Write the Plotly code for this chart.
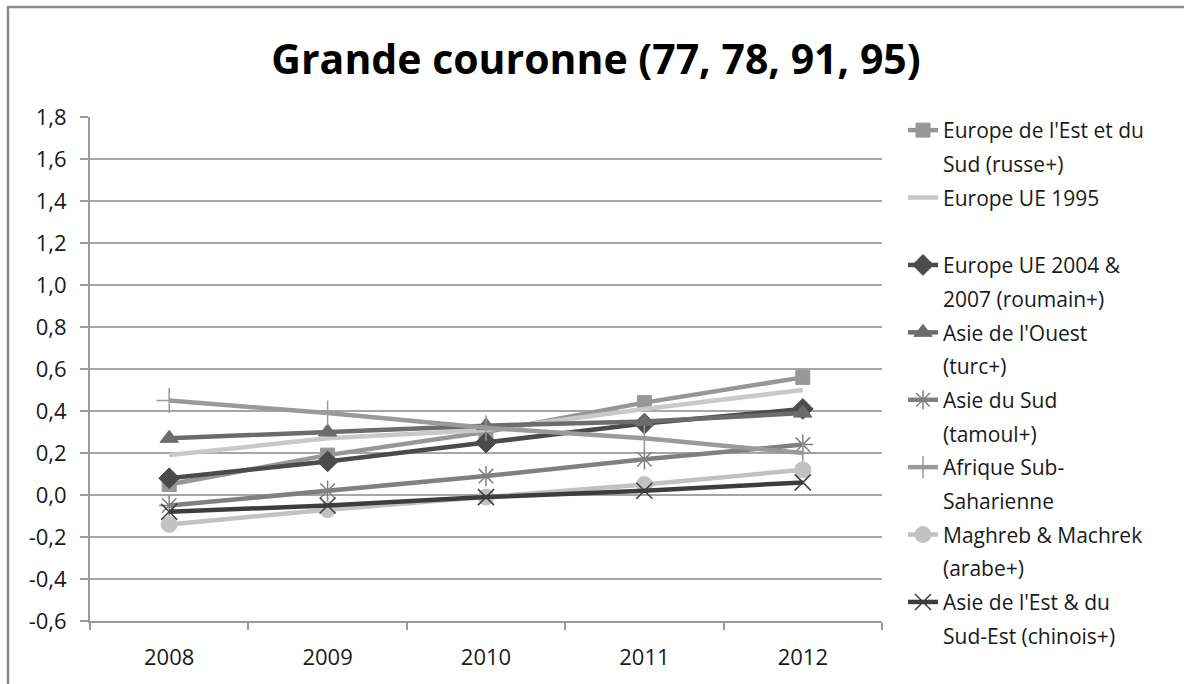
import plotly.graph_objects as go

years = ["2008", "2009", "2010", "2011", "2012"]

europe_est_sud = [0.05, 0.19, 0.30, 0.44, 0.56]
europe_ue_1995 = [0.19, 0.27, 0.31, 0.41, 0.50]
europe_ue_2004_2007 = [0.08, 0.16, 0.25, 0.34, 0.41]
asie_ouest = [0.27, 0.30, 0.33, 0.35, 0.39]
asie_sud = [-0.05, 0.02, 0.09, 0.17, 0.24]
afrique_sub = [0.45, 0.39, 0.32, 0.27, 0.20]
maghreb_machrek = [-0.14, -0.07, -0.01, 0.05, 0.12]
asie_est = [-0.08, -0.05, -0.01, 0.02, 0.06]

y_tickvals = [-0.6, -0.4, -0.2, 0.0, 0.2, 0.4, 0.6, 0.8, 1.0, 1.2, 1.4, 1.6, 1.8]
y_ticktext = ["-0,6", "-0,4", "-0,2", "0,0", "0,2", "0,4", "0,6", "0,8", "1,0", "1,2", "1,4", "1,6", "1,8"]

series = [
    ("Europe de l'Est et du", "Sud (russe+)", europe_est_sud, "#979797", "square", 14, 1),
    ("Europe UE 1995", "\u00a0", europe_ue_1995, "#c9c9c9", None, 0, 0),
    ("Europe UE 2004 &", "2007 (roumain+)", europe_ue_2004_2007, "#4b4b4b", "diamond", 16, 1),
    ("Asie de l'Ouest", "(turc+)", asie_ouest, "#6c6c6c", "triangle-up", 16, 1),
    ("Asie du Sud", "(tamoul+)", asie_sud, "#808080", "asterisk-open", 17, 1.5),
    ("Afrique Sub-", "Saharienne", afrique_sub, "#9a9a9a", "cross-thin-open", 18, 1.5),
    ("Maghreb & Machrek", "(arabe+)", maghreb_machrek, "#c2c2c2", "circle", 16, 1),
    ("Asie de l'Est & du", "Sud-Est (chinois+)", asie_est, "#3d3d3d", "x-thin-open", 16, 1.5),
]

fig = go.Figure()
gi = 0
for name1, name2, vals, color, sym, msize, mlw in series:
    if sym is None:
        mode = "lines"
        marker = dict()
    else:
        mode = "lines+markers"
        marker = dict(symbol=sym, size=msize, color=color, line=dict(color=color, width=mlw))
    fig.add_trace(go.Scatter(
        x=years, y=vals, mode=mode, name=name1,
        line=dict(color=color, width=4.5), marker=marker,
        legendgroup="g%d" % gi, showlegend=True,
    ))
    gi += 1
    fig.add_trace(go.Scatter(
        x=[None], y=[None], mode="lines", name=name2,
        line=dict(color="rgba(0,0,0,0)", width=0),
        legendgroup="g%d" % gi, showlegend=True, hoverinfo="skip",
    ))
    gi += 1

W, H = 1184, 684
L, R, T, B = 90, 882, 117, 621
pw, ph = R - L, B - T

def px_x(p):
    return (p - L) / pw

def px_y(p):
    return (B - p) / ph

LEG_FONT = 21
ROW = 33.7
row_h = LEG_FONT * 1.3 + 3

fig.update_layout(
    width=W, height=H,
    margin=dict(l=L, r=W - R, t=T, b=H - B, pad=0),
    paper_bgcolor="white", plot_bgcolor="white",
    font=dict(family="Open Sans, sans-serif", color="#1a1a1a"),
    title=dict(text="<b>Grande couronne (77, 78, 91, 95)</b>",
               x=596 / W, xanchor="center", y=1 - 60 / H, yanchor="middle",
               font=dict(size=41, color="#000000", family="Open Sans, sans-serif")),
    showlegend=True,
    legend=dict(
        xref="container", yref="container",
        x=903 / W, xanchor="left", y=1 - 110 / H, yanchor="top",
        font=dict(size=LEG_FONT, color="#1a1a1a"),
        traceorder="grouped", tracegroupgap=ROW - row_h,
        bgcolor="rgba(0,0,0,0)", borderwidth=0,
        itemclick=False, itemdoubleclick=False,
        maxheight=620,
    ),
    xaxis=dict(
        type="category", range=[-0.5, 4.5],
        showgrid=False, showline=True, linecolor="#9a9a9a", linewidth=2,
        ticks="outside", tickson="boundaries", ticklen=7, tickwidth=2, tickcolor="#9a9a9a",
        tickfont=dict(size=22, color="#1a1a1a"), ticklabelstandoff=16,
        fixedrange=True,
    ),
    yaxis=dict(
        range=[-0.6, 1.8], tickvals=y_tickvals, ticktext=y_ticktext,
        showgrid=True, gridcolor="#a6a6a6", gridwidth=1.5,
        showline=True, linecolor="#9a9a9a", linewidth=2,
        ticks="outside", ticklen=8, tickwidth=2, tickcolor="#9a9a9a",
        tickfont=dict(size=22, color="#1a1a1a"), ticklabelstandoff=9,
        zeroline=False, fixedrange=True,
    ),
    shapes=[
        dict(type="line", xref="paper", yref="paper",
             x0=px_x(8), x1=px_x(8), y0=px_y(6), y1=px_y(700),
             line=dict(color="#8c8c8c", width=2.5)),
        dict(type="line", xref="paper", yref="paper",
             x0=px_x(7), x1=px_x(1200), y0=px_y(7), y1=px_y(7),
             line=dict(color="#8c8c8c", width=2.5)),
    ],
)

fig.write_html(
    "out.html",
    config={"displayModeBar": False},
    post_script="document.body.style.margin='0';document.body.style.overflow='hidden';",
)
